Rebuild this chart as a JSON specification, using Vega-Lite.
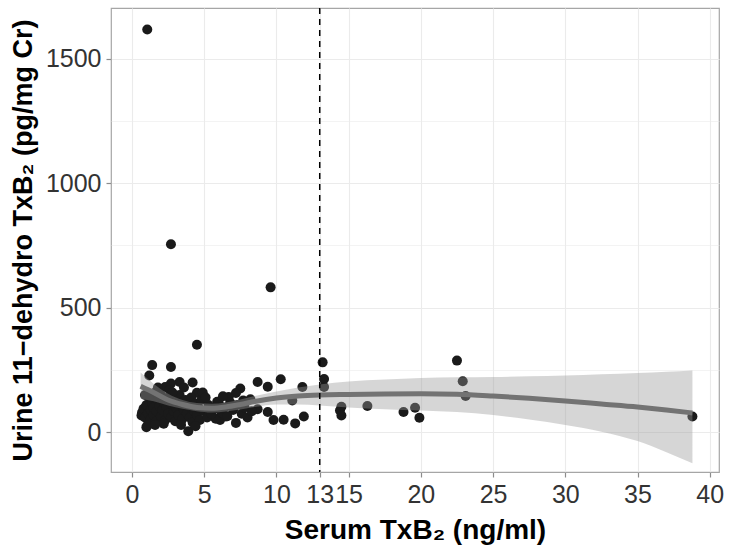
{
  "$schema": "https://vega.github.io/schema/vega-lite/v6.json",
  "width": 608,
  "height": 464,
  "autosize": {"type": "none"},
  "padding": {"left": 111, "top": 8, "right": 10, "bottom": 82},
  "background": "white",
  "config": {
    "view": {"stroke": "#a6a6a6", "strokeWidth": 1.2},
    "font": "Liberation Sans",
    "axis": {
      "labelFont": "Liberation Sans",
      "titleFont": "Liberation Sans",
      "labelFontSize": 25,
      "labelColor": "#333333",
      "titleFontSize": 28,
      "titleFontWeight": "bold",
      "titleColor": "#000000",
      "domain": false,
      "tickColor": "#8c8c8c",
      "tickSize": 5,
      "tickWidth": 1.2,
      "gridColor": "#ebebeb",
      "gridWidth": 1
    }
  },
  "datasets": {
    "pts": [
      {"x": 1.06, "y": 1617}, {"x": 2.7, "y": 755}, {"x": 9.6, "y": 582}, {"x": 4.5, "y": 352},
      {"x": 1.4, "y": 270}, {"x": 2.7, "y": 262}, {"x": 1.2, "y": 228}, {"x": 3.3, "y": 202},
      {"x": 4.2, "y": 200}, {"x": 4.5, "y": 159}, {"x": 2.7, "y": 196}, {"x": 2.3, "y": 182},
      {"x": 8.7, "y": 202}, {"x": 9.4, "y": 183}, {"x": 10.3, "y": 213}, {"x": 11.8, "y": 182},
      {"x": 7.5, "y": 176}, {"x": 7.2, "y": 158}, {"x": 6.7, "y": 142}, {"x": 5.9, "y": 123},
      {"x": 11.1, "y": 128}, {"x": 8.2, "y": 133}, {"x": 7.7, "y": 128}, {"x": 8.7, "y": 93},
      {"x": 9.4, "y": 82}, {"x": 9.8, "y": 50}, {"x": 10.5, "y": 51}, {"x": 11.3, "y": 36},
      {"x": 11.9, "y": 64}, {"x": 7.2, "y": 38}, {"x": 6.1, "y": 50}, {"x": 5.8, "y": 55},
      {"x": 6.5, "y": 64}, {"x": 3.9, "y": 5}, {"x": 1.0, "y": 21}, {"x": 0.66, "y": 68},
      {"x": 13.2, "y": 281}, {"x": 13.3, "y": 214}, {"x": 13.3, "y": 182}, {"x": 14.5, "y": 103},
      {"x": 14.4, "y": 88}, {"x": 14.5, "y": 68}, {"x": 16.3, "y": 106}, {"x": 18.8, "y": 82},
      {"x": 19.6, "y": 99}, {"x": 19.9, "y": 59}, {"x": 22.5, "y": 288}, {"x": 22.9, "y": 205},
      {"x": 23.1, "y": 146}, {"x": 38.8, "y": 64},
      {"x": 0.7, "y": 80}, {"x": 0.8, "y": 95}, {"x": 0.9, "y": 60}, {"x": 1.0, "y": 110},
      {"x": 1.1, "y": 75}, {"x": 1.2, "y": 140}, {"x": 1.3, "y": 90}, {"x": 1.3, "y": 55},
      {"x": 1.4, "y": 120}, {"x": 1.5, "y": 100}, {"x": 1.5, "y": 70}, {"x": 1.6, "y": 160},
      {"x": 1.7, "y": 85}, {"x": 1.7, "y": 45}, {"x": 1.8, "y": 130}, {"x": 1.9, "y": 105},
      {"x": 2.0, "y": 65}, {"x": 2.0, "y": 150}, {"x": 2.1, "y": 90}, {"x": 2.2, "y": 120},
      {"x": 2.3, "y": 50}, {"x": 2.4, "y": 100}, {"x": 2.5, "y": 75}, {"x": 2.5, "y": 140},
      {"x": 2.6, "y": 170}, {"x": 2.7, "y": 60}, {"x": 2.8, "y": 110}, {"x": 2.9, "y": 85},
      {"x": 3.0, "y": 130}, {"x": 3.0, "y": 45}, {"x": 3.1, "y": 95}, {"x": 3.2, "y": 70},
      {"x": 3.3, "y": 150}, {"x": 3.4, "y": 115}, {"x": 3.5, "y": 55}, {"x": 3.6, "y": 90},
      {"x": 3.7, "y": 130}, {"x": 3.8, "y": 75}, {"x": 3.9, "y": 105}, {"x": 4.0, "y": 60},
      {"x": 4.1, "y": 140}, {"x": 4.2, "y": 40}, {"x": 4.3, "y": 85}, {"x": 4.4, "y": 115},
      {"x": 4.5, "y": 70}, {"x": 4.6, "y": 100}, {"x": 4.7, "y": 50}, {"x": 4.8, "y": 130},
      {"x": 5.0, "y": 85}, {"x": 5.2, "y": 60}, {"x": 5.3, "y": 110}, {"x": 5.5, "y": 75},
      {"x": 5.7, "y": 95}, {"x": 6.0, "y": 120}, {"x": 6.2, "y": 80}, {"x": 6.4, "y": 100},
      {"x": 6.6, "y": 65}, {"x": 6.8, "y": 120}, {"x": 7.0, "y": 90}, {"x": 7.3, "y": 110},
      {"x": 7.6, "y": 75}, {"x": 7.8, "y": 100}, {"x": 8.0, "y": 60}, {"x": 8.3, "y": 85},
      {"x": 4.9, "y": 160}, {"x": 3.6, "y": 180}, {"x": 1.8, "y": 180}, {"x": 2.2, "y": 35},
      {"x": 0.9, "y": 150}, {"x": 1.1, "y": 30}, {"x": 1.6, "y": 30}, {"x": 2.8, "y": 160},
      {"x": 3.4, "y": 30}, {"x": 5.1, "y": 140}, {"x": 6.3, "y": 145}, {"x": 4.4, "y": 25}
    ],
    "fit": [
      {"x": 0.6, "y": 185, "lo": 135, "hi": 240},
      {"x": 1.5, "y": 160, "lo": 125, "hi": 195},
      {"x": 2.5, "y": 130, "lo": 108, "hi": 155},
      {"x": 3.5, "y": 112, "lo": 95, "hi": 130},
      {"x": 4.5, "y": 100, "lo": 85, "hi": 118},
      {"x": 5.5, "y": 97, "lo": 80, "hi": 115},
      {"x": 6.5, "y": 102, "lo": 84, "hi": 120},
      {"x": 7.5, "y": 112, "lo": 92, "hi": 132},
      {"x": 8.5, "y": 124, "lo": 102, "hi": 146},
      {"x": 10, "y": 138, "lo": 112, "hi": 164},
      {"x": 11.5, "y": 146, "lo": 112, "hi": 180},
      {"x": 13, "y": 150, "lo": 108, "hi": 192},
      {"x": 15, "y": 152, "lo": 100, "hi": 204},
      {"x": 17.5, "y": 154, "lo": 93, "hi": 212},
      {"x": 20, "y": 155, "lo": 88, "hi": 218},
      {"x": 22.5, "y": 153, "lo": 82, "hi": 221},
      {"x": 25, "y": 146, "lo": 70, "hi": 222},
      {"x": 27.5, "y": 137, "lo": 52, "hi": 225},
      {"x": 30, "y": 126, "lo": 30, "hi": 228},
      {"x": 32.5, "y": 114, "lo": 3, "hi": 233},
      {"x": 35, "y": 102, "lo": -35, "hi": 238},
      {"x": 37, "y": 90, "lo": -80, "hi": 243},
      {"x": 38.8, "y": 78, "lo": -124, "hi": 248}
    ],
    "cut": [{"x": 13}]
  },
  "layer": [
    {
      "data": {"name": "pts"},
      "mark": {"type": "circle", "size": 100, "color": "#1a1a1a", "opacity": 1},
      "encoding": {
        "x": {
          "field": "x", "type": "quantitative",
          "scale": {"domain": [-1.45, 40.64], "nice": false, "zero": false},
          "axis": {
            "title": "Serum TxB₂ (ng/ml)",
            "values": [0, 2.5, 5, 7.5, 10, 11.5, 13, 14, 15, 17.5, 20, 22.5, 25, 27.5, 30, 32.5, 35, 37.5, 40],
            "labelExpr": "indexof([0,5,10,13,15,20,25,30,35,40], datum.value) < 0 ? '' : datum.label",
            "tickOpacity": {"condition": {"test": "indexof([0,5,10,13,15,20,25,30,35,40], datum.value) < 0", "value": 0}, "value": 1},
            "gridWidth": {"condition": {"test": "indexof([0,5,10,13,15,20,25,30,35,40], datum.value) < 0", "value": 0.6}, "value": 1.1},
            "labelPadding": 5,
            "titlePadding": 9,
            "labelFlush": false
          }
        },
        "y": {
          "field": "y", "type": "quantitative",
          "scale": {"domain": [-159, 1703], "nice": false, "zero": false},
          "axis": {
            "title": "Urine 11−dehydro TxB₂  (pg/mg Cr)",
            "titleFontSize": 27,
            "values": [0, 250, 500, 750, 1000, 1250, 1500],
            "labelExpr": "datum.value % 500 != 0 ? '' : datum.label",
            "format": "d",
            "tickOpacity": {"condition": {"test": "datum.value % 500 != 0", "value": 0}, "value": 1},
            "gridWidth": {"condition": {"test": "datum.value % 500 != 0", "value": 0.6}, "value": 1.1},
            "labelPadding": 5,
            "titlePadding": 8,
            "labelFlush": false
          }
        }
      }
    },
    {
      "data": {"name": "fit"},
      "mark": {"type": "area", "color": "#999999", "opacity": 0.4, "interpolate": "monotone"},
      "encoding": {
        "x": {"field": "x", "type": "quantitative"},
        "y": {"field": "lo", "type": "quantitative"},
        "y2": {"field": "hi"}
      }
    },
    {
      "data": {"name": "fit"},
      "mark": {"type": "line", "color": "#737373", "strokeWidth": 5, "interpolate": "monotone"},
      "encoding": {
        "x": {"field": "x", "type": "quantitative"},
        "y": {"field": "y", "type": "quantitative"}
      }
    },
    {
      "data": {"name": "cut"},
      "mark": {"type": "rule", "color": "#000000", "strokeWidth": 1.5, "strokeDash": [6, 5]},
      "encoding": {
        "x": {"field": "x", "type": "quantitative"}
      }
    }
  ]
}
